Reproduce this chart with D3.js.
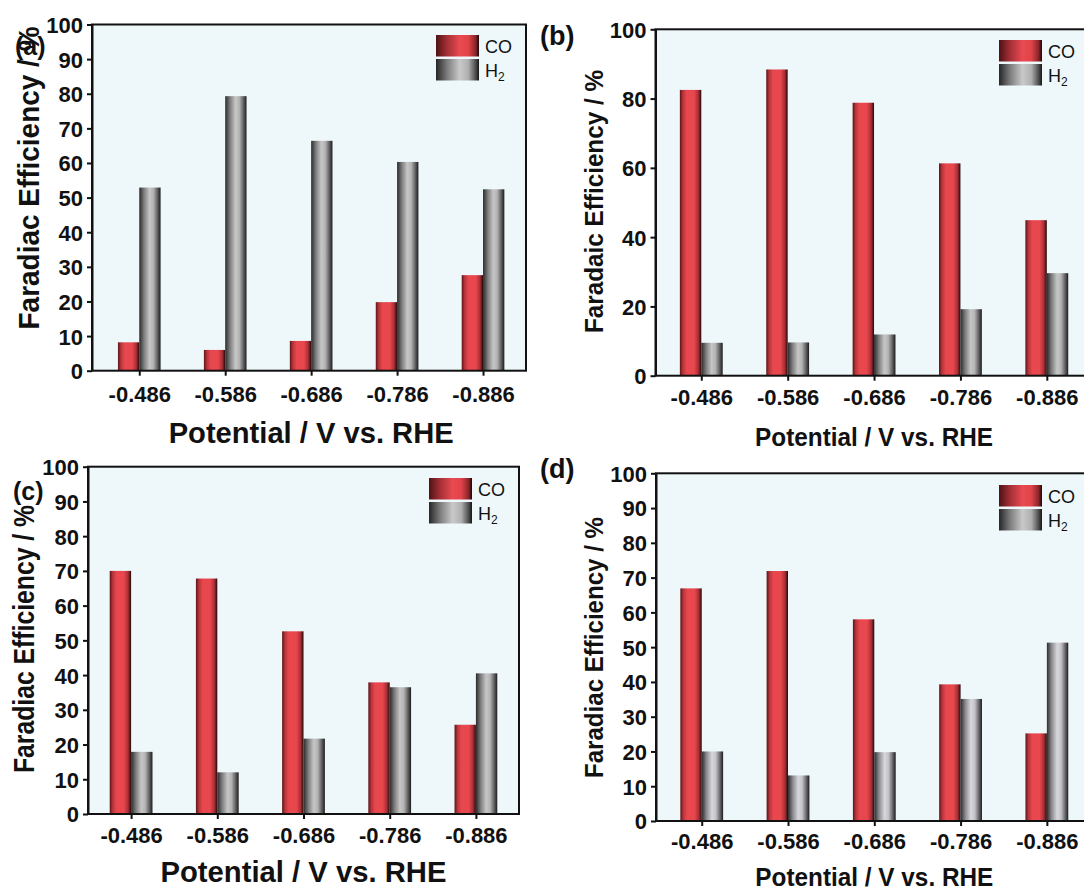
<!DOCTYPE html>
<html>
<head>
<meta charset="utf-8">
<script src="https://cdn.jsdelivr.net/npm/d3@7"></script>
<style>
  html, body { margin: 0; padding: 0; background: #ffffff; }
  svg { display: block; }
  text { font-family: "Liberation Sans", Arial, Helvetica, sans-serif; }
</style>
</head>
<body>
<svg id="fig" width="1084" height="892"></svg>
<script>
// Applied potentials (V vs. RHE)
const potentials = ["-0.486", "-0.586", "-0.686", "-0.786", "-0.886"];

// Faradaic efficiencies (%) for each catalyst
const coA = [8.2, 6.0, 8.6, 19.8, 27.6];
const h2A = [52.9, 79.3, 66.4, 60.3, 52.4];

const coB = [82.5, 88.4, 78.8, 61.3, 44.9];
const h2B = [9.5, 9.6, 11.9, 19.2, 29.6];

const coC = [70.0, 67.8, 52.6, 37.9, 25.7];
const h2C = [17.9, 12.0, 21.7, 36.5, 40.5];

const coD = [66.9, 71.9, 58.0, 39.3, 25.2];
const h2D = [20.0, 13.1, 19.8, 35.1, 51.3];

// Y tick values
const ticksTen = [0, 10, 20, 30, 40, 50, 60, 70, 80, 90, 100];
const ticksTwenty = [0, 20, 40, 60, 80, 100];

const panelLabels = ["(a)", "(b)", "(c)", "(d)"];
const yTitles = ["Faradiac Efficiency / %", "Faradaic Efficiency / %", "Faradiac Efficiency / %", "Faradiac Efficiency / %"];
const xTitle = "Potential / V vs. RHE";
const seriesNames = ["CO", "H2"];

// Panel geometry
const layout = [
  { co: coA, h2: h2A, ticks: ticksTen, left: 92, right: 526, top: 24.5, bottom: 370.7, x0: 0.45, h2Grad: "gradH2",
    yTitle: { x: 39, y: 178, len: 303, size: 30 }, xTitleY: 443, xTitleLen: 285, xTitleSize: 30,
    tickY: 402, label: { x: 15, y: 55, size: 25 }, legend: { x: 436, y: 35 } },
  { co: coB, h2: h2B, ticks: ticksTwenty, left: 655.5, right: 1090, top: 29.3, bottom: 375.7, x0: 0.47, h2Grad: "gradH2",
    yTitle: { x: 603, y: 201.5, len: 263, size: 26 }, xTitleY: 446, xTitleLen: 238, xTitleSize: 26,
    tickY: 405, label: { x: 540, y: 45, size: 27 }, legend: { x: 999, y: 40 } },
  { co: coC, h2: h2C, ticks: ticksTen, left: 88, right: 519, top: 466.7, bottom: 814, x0: 0.5, h2Grad: "gradH2",
    yTitle: { x: 34, y: 639, len: 268, size: 30 }, xTitleY: 882, xTitleLen: 286, xTitleSize: 30,
    tickY: 843, label: { x: 13, y: 500, size: 25 }, legend: { x: 429, y: 478 } },
  { co: coD, h2: h2D, ticks: ticksTen, left: 656, right: 1090, top: 473.3, bottom: 821, x0: 0.47, h2Grad: "gradH2light",
    yTitle: { x: 603, y: 647.5, len: 261, size: 26 }, xTitleY: 886, xTitleLen: 238, xTitleSize: 26,
    tickY: 849, label: { x: 540, y: 478, size: 27 }, legend: { x: 999, y: 485 } }
];

const svg = d3.select("#fig");
const defs = svg.append("defs");

// Cylinder-like horizontal shading for the bars
function addGradient(id, stops) {
  const g = defs.append("linearGradient").attr("id", id)
    .attr("x1", "0%").attr("x2", "100%").attr("y1", "0%").attr("y2", "0%");
  stops.forEach(([o, c]) => g.append("stop").attr("offset", o).attr("stop-color", c));
}
addGradient("gradCO", [["0%", "#5a1518"], ["14%", "#b7353b"], ["32%", "#e9474e"], ["66%", "#e9474e"], ["86%", "#a82f35"], ["100%", "#240809"]]);
addGradient("gradH2", [["0%", "#2a2a2a"], ["22%", "#7c7c7c"], ["48%", "#c6c6c6"], ["66%", "#b4b4b4"], ["86%", "#5e5e5e"], ["100%", "#1c1c1c"]]);
addGradient("gradH2light", [["0%", "#2c2c2e"], ["22%", "#8a8a8e"], ["48%", "#d8d7dc"], ["66%", "#c4c3c8"], ["86%", "#66666a"], ["100%", "#1c1c1e"]]);
addGradient("legCO", [["0%", "#4e1215"], ["25%", "#a22f35"], ["55%", "#ea4a51"], ["75%", "#e04349"], ["92%", "#8a2529"], ["100%", "#1e0607"]]);
addGradient("legH2", [["0%", "#262626"], ["25%", "#7a7a7a"], ["55%", "#c9c9c9"], ["75%", "#b0b0b0"], ["92%", "#4e4e4e"], ["100%", "#161616"]]);

const legendFills = { CO: "url(#legCO)", H2: "url(#legH2)" };

layout.forEach((p, i) => {
  const g = svg.append("g");
  const fills = { CO: "url(#gradCO)", H2: `url(#${p.h2Grad})` };

  const x = d3.scaleLinear().domain([p.x0, 5.5]).range([p.left, p.right]);
  const y = d3.scaleLinear().domain([0, 100]).range([p.bottom, p.top]);
  const step = x(2) - x(1);
  const barW = step * 0.248;

  // plot background
  g.append("rect")
    .attr("x", p.left).attr("y", p.top)
    .attr("width", p.right - p.left).attr("height", p.bottom - p.top)
    .attr("fill", "#eef8fb");

  // bars
  const rows = potentials.map((v, k) => ({ k: k + 1, CO: p.co[k], H2: p.h2[k] }));
  seriesNames.forEach((s, si) => {
    g.selectAll(null).data(rows).enter().append("rect")
      .attr("x", d => x(d.k) + (si === 0 ? -barW : 0))
      .attr("y", d => y(d[s]))
      .attr("width", barW)
      .attr("height", d => y(0) - y(d[s]))
      .attr("fill", fills[s]);
  });

  // frame
  g.append("rect")
    .attr("x", p.left).attr("y", p.top)
    .attr("width", p.right - p.left).attr("height", p.bottom - p.top)
    .attr("fill", "none").attr("stroke", "#111").attr("stroke-width", 2);

  // y axis
  const yAxis = d3.axisLeft(y).tickValues(p.ticks).tickSize(5).tickSizeOuter(0).tickPadding(4);
  const ya = g.append("g").attr("transform", `translate(${p.left},0)`).call(yAxis);
  ya.select(".domain").attr("stroke", "#111").attr("stroke-width", 2);
  ya.selectAll(".tick line").attr("stroke", "#111").attr("stroke-width", 2);
  ya.selectAll(".tick text").attr("fill", "#111")
    .style("font-size", "22px").style("font-weight", "bold")
    .attr("dy", "0.36em");

  // x axis
  const xAxis = d3.axisBottom(x).tickValues([1, 2, 3, 4, 5])
    .tickFormat(d => potentials[d - 1]).tickSize(5).tickSizeOuter(0);
  const xa = g.append("g").attr("transform", `translate(0,${p.bottom})`).call(xAxis);
  xa.select(".domain").remove();
  xa.selectAll(".tick line").attr("stroke", "#111").attr("stroke-width", 2);
  xa.selectAll(".tick text").attr("fill", "#111")
    .style("font-size", "22px").style("font-weight", "bold")
    .attr("y", p.tickY - p.bottom).attr("dy", 0);

  // axis titles
  g.append("text")
    .attr("transform", `translate(${p.yTitle.x},${p.yTitle.y}) rotate(-90)`)
    .attr("text-anchor", "middle")
    .attr("textLength", p.yTitle.len).attr("lengthAdjust", "spacingAndGlyphs")
    .style("font-size", p.yTitle.size + "px").style("font-weight", "bold").attr("fill", "#111")
    .text(yTitles[i]);

  g.append("text")
    .attr("x", (x(1) + x(5)) / 2).attr("y", p.xTitleY)
    .attr("text-anchor", "middle")
    .attr("textLength", p.xTitleLen).attr("lengthAdjust", "spacingAndGlyphs")
    .style("font-size", p.xTitleSize + "px").style("font-weight", "bold").attr("fill", "#111")
    .text(xTitle);

  // panel label
  g.append("text")
    .attr("x", p.label.x).attr("y", p.label.y)
    .style("font-size", p.label.size + "px").style("font-weight", "bold").attr("fill", "#111")
    .text(panelLabels[i]);

  // legend
  const lg = g.append("g").attr("transform", `translate(${p.legend.x},${p.legend.y})`);
  seriesNames.forEach((s, si) => {
    const ly = si * 24;
    lg.append("rect").attr("x", 0).attr("y", ly).attr("width", 43).attr("height", 21.5)
      .attr("fill", legendFills[s]);
    const t = lg.append("text").attr("x", 49).attr("y", ly + 17.5)
      .style("font-size", "18px").attr("fill", "#111");
    if (s === "H2") {
      t.append("tspan").text("H");
      t.append("tspan").attr("dy", 4).style("font-size", "12px").text("2");
    } else {
      t.text(s);
    }
  });
});
</script>
</body>
</html>
